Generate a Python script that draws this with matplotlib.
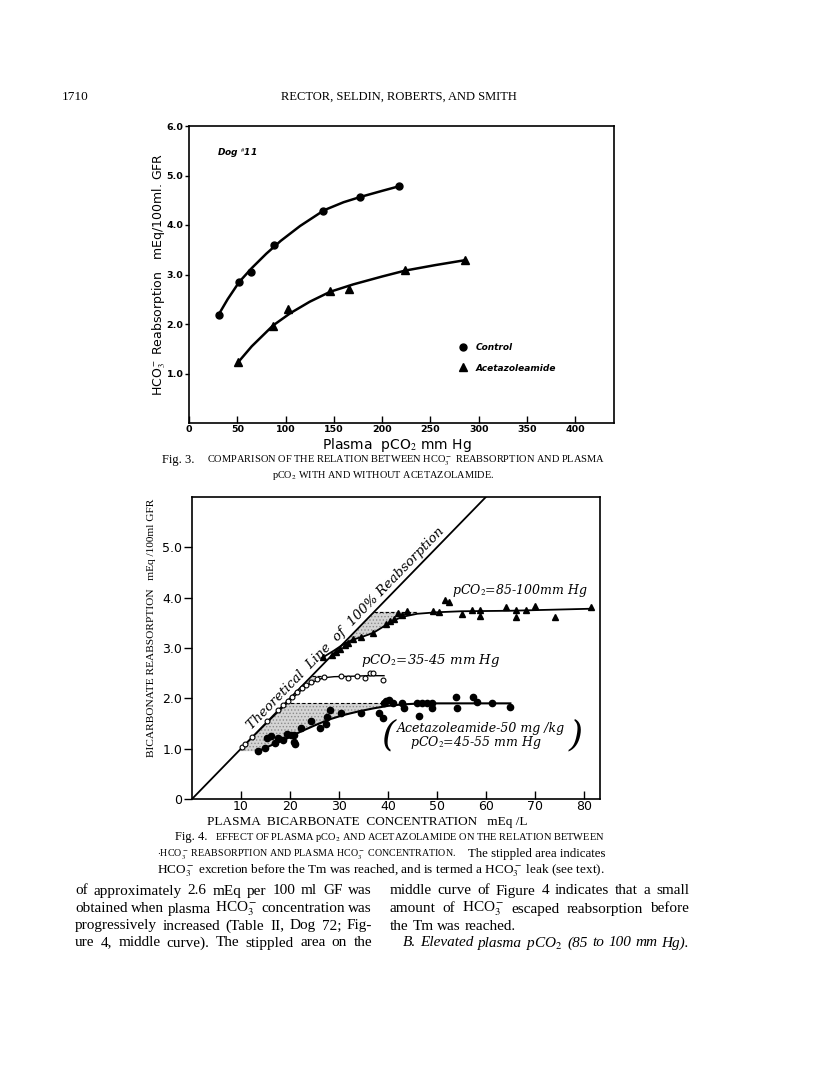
import numpy as np
import matplotlib.pyplot as plt

plt.rcParams['mathtext.fontset'] = 'stix'
plt.rcParams['hatch.linewidth'] = 0.6

W, H = 816, 1073

# ---------------- Fig. 3 (Dog #11) ----------------
ctrl_pco2 = [31, 52, 64, 88, 139, 177, 217]
ctrl_reabs = [2.19, 2.85, 3.06, 3.60, 4.29, 4.56, 4.78]
acet_pco2 = [51, 87, 102, 146, 166, 224, 286]
acet_reabs = [1.23, 1.96, 2.31, 2.66, 2.70, 3.09, 3.29]

# hand drawn curves through the points
ctrl_curve_x = [31, 40, 52, 65, 80, 95, 115, 140, 160, 178, 200, 217]
ctrl_curve_y = [2.20, 2.50, 2.85, 3.13, 3.42, 3.68, 3.98, 4.30, 4.46, 4.57, 4.69, 4.78]
acet_curve_x = [51, 65, 87, 105, 125, 146, 170, 200, 224, 255, 286]
acet_curve_y = [1.23, 1.55, 1.97, 2.22, 2.45, 2.65, 2.80, 2.96, 3.08, 3.19, 3.29]

fig3_xticks = [0, 50, 100, 150, 200, 250, 300, 350, 400]
fig3_yticks = [1, 2, 3, 4, 5, 6]

# ---------------- Fig. 4 ----------------
# pCO2 = 85-100 mm Hg (triangles)
hi_conc = [26.8, 28.5, 29.5, 30.3, 31.2, 31.9, 32.9, 34.5, 37.0, 39.6, 40.5, 41.3,
           42.0, 42.8, 43.8, 49.3, 50.5, 51.7, 52.4, 55.2, 57.1, 58.9, 58.9, 64.1,
           66.1, 66.2, 68.1, 70.0, 74.2, 81.4]
hi_reabs = [2.82, 2.86, 2.92, 2.98, 3.05, 3.10, 3.17, 3.22, 3.29, 3.47, 3.53, 3.58,
            3.70, 3.66, 3.74, 3.73, 3.71, 3.95, 3.92, 3.67, 3.76, 3.75, 3.63, 3.82,
            3.76, 3.62, 3.76, 3.84, 3.62, 3.82]
# pCO2 = 35-45 mm Hg (open circles)
mid_conc = [10.2, 10.9, 12.3, 15.3, 17.5, 18.5, 19.5, 20.5, 21.5, 22.5, 23.3, 24.3,
            25.5, 27.0, 30.5, 31.9, 33.6, 35.3, 36.3, 37.0, 39.0]
mid_reabs = [1.03, 1.09, 1.24, 1.55, 1.76, 1.86, 1.95, 2.03, 2.12, 2.20, 2.27, 2.33,
             2.39, 2.43, 2.44, 2.40, 2.44, 2.41, 2.50, 2.50, 2.37]
# acetazolamide 50 mg/kg, pCO2 = 45-55 mm Hg (filled circles)
acz_conc = [13.5, 15.0, 15.3, 16.2, 16.9, 17.5, 18.5, 19.3, 20.2, 20.8, 20.9, 21.0,
            22.2, 24.3, 26.2, 27.3, 27.5, 28.2, 30.5, 34.5, 38.2, 39.0, 39.2, 39.6,
            40.2, 41.1, 42.8, 43.2, 46.0, 47.0, 48.0, 49.0, 46.3, 49.0, 53.8, 54.1,
            57.3, 58.2, 61.2, 65.0]
acz_reabs = [0.95, 1.02, 1.21, 1.25, 1.12, 1.22, 1.18, 1.30, 1.28, 1.27, 1.14, 1.10,
             1.41, 1.55, 1.42, 1.50, 1.62, 1.76, 1.70, 1.70, 1.70, 1.61, 1.90, 1.95,
             1.97, 1.90, 1.91, 1.81, 1.91, 1.91, 1.91, 1.90, 1.65, 1.81, 2.02, 1.81,
             2.02, 1.93, 1.91, 1.82]

hi_curve_x = [26.5, 29, 31, 33, 35, 37, 39, 41, 43, 46, 50, 55, 65, 81.4]
hi_curve_y = [2.80, 2.95, 3.08, 3.17, 3.23, 3.30, 3.42, 3.54, 3.62, 3.68, 3.71, 3.73, 3.74, 3.78]
mid_curve_x = [10, 16, 20, 22.5, 24, 25.5, 27, 29, 33, 36, 39.2]
mid_curve_y = [1.00, 1.58, 1.96, 2.18, 2.28, 2.36, 2.41, 2.43, 2.44, 2.45, 2.45]
acz_curve_x = [13.5, 16, 18, 20, 22, 25, 28, 31, 34, 37, 40, 43, 47, 52, 65]
acz_curve_y = [0.95, 1.06, 1.14, 1.23, 1.33, 1.46, 1.58, 1.67, 1.74, 1.80, 1.85, 1.88, 1.90, 1.90, 1.90]

theory_x = [0, 60]
theory_y = [0, 6.0]

# stippled "leak" areas: Tm level, x range
leak_level = [3.72, 2.45, 1.90]
leak_start = [29.0, 22.0, 9.7]
leak_end = [46.0, 27.5, 40.0]
leak_curves = [(hi_curve_x, hi_curve_y), (mid_curve_x, mid_curve_y), (acz_curve_x, acz_curve_y)]

fig4_xticks = [10, 20, 30, 40, 50, 60, 70, 80]
fig4_yticks = [0, 1, 2, 3, 4, 5]


def px(x, y):
    return x / W, 1 - y / H


fig = plt.figure(figsize=(W / 100, H / 100), dpi=100)
fig.patch.set_facecolor('white')
renderer = fig.canvas.get_renderer()
SERIF = 'Liberation Serif'


def justify(line, x0, x1, y, size=11, style='normal', last=False):
    words = line.split()
    objs = [fig.text(0, 1 - y / H, w, fontsize=size, family=SERIF,
                     style=style, va='center') for w in words]
    widths = [o.get_window_extent(renderer).width for o in objs]
    gap = size * 0.35 if last else (x1 - x0 - sum(widths)) / max(len(words) - 1, 1)
    x = x0
    for o, w in zip(objs, widths):
        o.set_x(x / W)
        x += w + gap


# page header
fig.text(*px(62, 97), '1710', fontsize=9.5, family=SERIF, va='center')
fig.text(*px(399, 97), 'RECTOR, SELDIN, ROBERTS, AND SMITH', fontsize=9,
         family=SERIF, ha='center', va='center')

# ---------- Fig 3 ----------
ax3 = fig.add_axes([189 / W, 1 - 423 / H, 425 / W, 297 / H])
ax3.plot(ctrl_curve_x, ctrl_curve_y, color='black', lw=1.8)
ax3.plot(acet_curve_x, acet_curve_y, color='black', lw=1.8)
ax3.plot(ctrl_pco2, ctrl_reabs, 'o', color='black', ms=5, label='Control')
ax3.plot(acet_pco2, acet_reabs, '^', color='black', ms=5.5, label='Acetazoleamide')
ax3.set_xlim(0, 440)
ax3.set_ylim(0, 6)
ax3.set_xticks(fig3_xticks)
ax3.set_xticklabels([str(t) for t in fig3_xticks], fontsize=6.8, fontweight='bold')
ax3.set_yticks(fig3_yticks)
ax3.set_yticklabels(['%.1f' % t for t in fig3_yticks], fontsize=6.8, fontweight='bold')
ax3.tick_params(axis='x', direction='in', length=5, width=1, pad=1.5)
ax3.tick_params(axis='y', direction='out', length=3, width=1, pad=1)
for s in ax3.spines.values():
    s.set_linewidth(1.2)
ax3.set_xlabel(r'Plasma  pCO$_2$ mm Hg', fontsize=10)
ax3.xaxis.set_label_coords(0.49, -0.045)
ax3.set_ylabel(r'HCO$_3^-$ Reabsorption   mEq/100ml. GFR', fontsize=9)
ax3.yaxis.set_label_coords(-0.05, 0.5)
ax3.text(0.065, 0.9, r'Dog $^{\#}$11', transform=ax3.transAxes, fontsize=6.5,
         style='italic', fontweight='bold')
ax3.legend(loc='center left', bbox_to_anchor=(0.615, 0.22), handlelength=1,
           handletextpad=0.9, labelspacing=1.3, frameon=False,
           prop={'style': 'italic', 'weight': 'bold', 'size': 6.5})

# caption fig 3
fig.text(*px(162, 460), 'Fig. 3.', fontsize=9, family=SERIF, va='center')
fig.text(*px(207, 460), r'COMPARISON OF THE RELATION BETWEEN HCO$_3^-$ REABSORPTION AND PLASMA',
         fontsize=7.5, family=SERIF, va='center')
fig.text(*px(383, 475), r'pCO$_2$ WITH AND WITHOUT ACETAZOLAMIDE.', fontsize=7.4,
         family=SERIF, ha='center', va='center')

# ---------- Fig 4 ----------
ax4 = fig.add_axes([192 / W, 1 - 799 / H, 408 / W, 302 / H])
ax4.set_xlim(0, 83.3)
ax4.set_ylim(0, 6)

for lvl, x0, x1, (cx, cy) in zip(leak_level, leak_start, leak_end, leak_curves):
    xs = np.linspace(x0, x1, 200)
    upper = np.minimum(xs / 10.0, lvl)
    lower = np.interp(xs, cx, cy)
    ax4.fill_between(xs, lower, upper, where=upper > lower, facecolor='#d4d4d4',
                     edgecolor='#8c8c8c', hatch='.....', linewidth=0)
    ax4.plot([lvl * 10, x1], [lvl, lvl], color='black', lw=0.8, dashes=(3, 2))

ax4.plot(theory_x, theory_y, color='black', lw=1.3)
ax4.plot(hi_curve_x, hi_curve_y, color='black', lw=1.3)
ax4.plot(mid_curve_x, mid_curve_y, color='black', lw=1.0)
ax4.plot(acz_curve_x, acz_curve_y, color='black', lw=1.5)
ax4.plot(hi_conc, hi_reabs, '^', color='black', ms=4.2)
ax4.plot(mid_conc, mid_reabs, 'o', mfc='white', mec='black', mew=0.8, ms=3.5)
ax4.plot(acz_conc, acz_reabs, 'o', color='black', ms=4.5)

ax4.set_xticks(fig4_xticks)
ax4.set_xticklabels([str(t) for t in fig4_xticks], fontsize=9)
ax4.set_yticks(fig4_yticks)
ax4.set_yticklabels(['0'] + ['%.1f' % t for t in fig4_yticks[1:]], fontsize=9)
ax4.tick_params(axis='x', direction='in', length=6, width=1, pad=1)
ax4.tick_params(axis='y', direction='out', length=6, width=1, pad=1)
for s in ax4.spines.values():
    s.set_linewidth(1.2)
ax4.set_xlabel('PLASMA  BICARBONATE  CONCENTRATION   mEq /L', fontsize=9.5,
               family=SERIF)
ax4.xaxis.set_label_coords(0.43, -0.056)
ax4.set_ylabel('BICARBONATE REABSORPTION   mEq /100ml GFR', fontsize=8.2,
               family=SERIF)
ax4.yaxis.set_label_coords(-0.088, 0.566)

# text along the theoretical line
p0 = ax4.transData.transform((theory_x[0], theory_y[0]))
p1 = ax4.transData.transform((theory_x[1], theory_y[1]))
ang = np.degrees(np.arctan2(p1[1] - p0[1], p1[0] - p0[0]))
ax4.text(32.4, 3.3, 'Theoretical  Line  of  100% Reabsorption', rotation=ang,
         rotation_mode='anchor', ha='center', va='bottom', fontsize=9.5,
         style='italic', family='DejaVu Serif')
ax4.text(53, 4.14, r'pCO$_2$=85-100mm Hg', fontsize=9, style='italic',
         family='DejaVu Serif', va='center')
ax4.text(34.6, 2.75, r'pCO$_2$=35-45 mm Hg', fontsize=9.5, style='italic',
         family='DejaVu Serif', va='center')
ax4.text(59, 1.40, 'Acetazoleamide-50 mg /kg', fontsize=9, style='italic',
         family='DejaVu Serif', ha='center', va='center')
ax4.text(58, 1.13, r'pCO$_2$=45-55 mm Hg', fontsize=9, style='italic',
         family='DejaVu Serif', ha='center', va='center')
ax4.text(40.2, 1.26, '(', fontsize=26, style='italic', family='DejaVu Serif',
         ha='center', va='center', fontweight='light')
ax4.text(78.3, 1.26, ')', fontsize=26, style='italic', family='DejaVu Serif',
         ha='center', va='center', fontweight='light')

# caption fig 4
fig.text(*px(175, 837), 'Fig. 4.', fontsize=9, family=SERIF, va='center')
fig.text(*px(605, 837), r'EFFECT OF PLASMA pCO$_2$ AND ACETAZOLAMIDE ON THE RELATION BETWEEN',
         fontsize=7.5, family=SERIF, ha='right', va='center')
fig.text(*px(157, 854), r'$\cdot$HCO$_3^-$ REABSORPTION AND PLASMA HCO$_3^-$ CONCENTRATION.',
         fontsize=7.2, family=SERIF, va='center')
fig.text(*px(605, 854), 'The stippled area indicates', fontsize=9.3,
         family=SERIF, ha='right', va='center')
fig.text(*px(605, 871), r'HCO$_3^-$ excretion before the Tm was reached, and is termed a HCO$_3^-$ leak (see text).',
         fontsize=9.5, family=SERIF, ha='right', va='center')

# body text, justified in two columns
left_col = ['of approximately 2.6 mEq per 100 ml GF was',
            r'obtained when plasma HCO$_3^-$ concentration was',
            'progressively increased (Table II, Dog 72; Fig-',
            'ure 4, middle curve).  The stippled area on the']
right_col = ['middle curve of Figure 4 indicates that a small',
             r'amount of HCO$_3^-$ escaped reabsorption before',
             'the Tm was reached.']
rows = [891, 909, 926, 943]
for line, y in zip(left_col, rows):
    justify(line, 75, 372, y)
for i, (line, y) in enumerate(zip(right_col, rows)):
    justify(line, 390, 689, y, last=(i == 2))
justify(r'B. Elevated plasma pCO$_2$ (85 to 100 mm Hg).', 403, 689, rows[3], style='italic')

fig.savefig('out.png', dpi=100)
